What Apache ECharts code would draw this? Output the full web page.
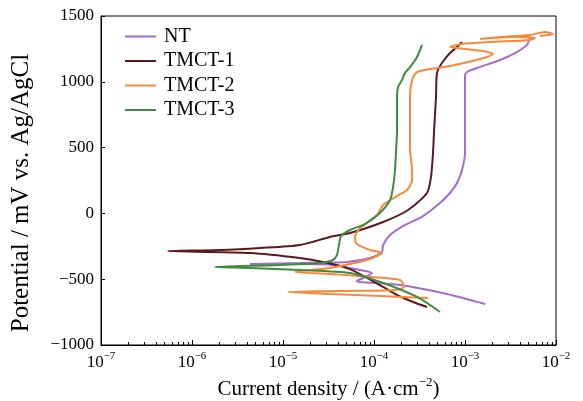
<!DOCTYPE html>
<html>
<head>
<meta charset="utf-8">
<script src="https://cdn.jsdelivr.net/npm/echarts@6/dist/echarts.min.js"></script>
<style>html,body{margin:0;padding:0;background:#fff}#c{width:583px;height:401px}</style>
</head>
<body>
<div id="c"></div>
<script>
var seriesNames = ['NT', 'TMCT-1', 'TMCT-2', 'TMCT-3'];
var seriesColors = ['#a56bd1', '#5c1a1f', '#f58a3c', '#3e8c3e'];

var ntData = [[1.66e-3,-688],[6.34e-4,-612],[1.93e-4,-544],[7.01e-5,-521],[6.50e-5,-514],[7.57e-5,-491],[9.51e-5,-453],[7.01e-5,-430],[3.54e-5,-392],[1.54e-5,-385],[4.34e-6,-385],[1.54e-5,-377],[5.05e-5,-369],[9.04e-5,-339],[1.22e-4,-293],[1.26e-4,-240],[1.50e-4,-164],[2.08e-4,-96],[3.45e-4,-20],[5.31e-4,79],[6.84e-4,155],[8.17e-4,231],[9.27e-4,330],[1.00e-3,459],[1.00e-3,634],[1.00e-3,885],[1.00e-3,1036],[1.05e-3,1074],[1.36e-3,1105],[2.43e-3,1166],[3.72e-3,1226],[4.80e-3,1280],[5.18e-3,1340]];

var tmct1Data = [[3.82e-4,-711],[2.69e-4,-673],[1.79e-4,-620],[1.26e-4,-559],[5.44e-5,-423],[2.75e-5,-369],[1.54e-5,-339],[4.34e-6,-301],[5.44e-7,-286],[2.03e-6,-278],[5.58e-6,-263],[1.54e-5,-240],[3.28e-5,-179],[5.44e-5,-149],[1.26e-4,-65],[2.37e-4,26],[3.82e-4,155],[4.23e-4,277],[4.45e-4,459],[4.56e-4,611],[4.80e-4,885],[4.92e-4,1067],[5.58e-4,1143],[6.84e-4,1219],[8.17e-4,1264],[9.27e-4,1302]];

var tmct2Data = [[3.92e-4,-643],[1.16e-4,-628],[3.28e-5,-612],[1.14e-5,-597],[4.23e-5,-590],[1.70e-4,-582],[2.14e-4,-559],[1.93e-4,-506],[9.04e-5,-483],[3.28e-5,-460],[1.36e-5,-445],[3.28e-5,-415],[5.44e-5,-385],[9.04e-5,-347],[1.22e-4,-301],[9.04e-5,-278],[6.50e-5,-233],[6.18e-5,-179],[7.01e-5,-111],[1.08e-4,-12],[1.26e-4,64],[1.79e-4,132],[2.31e-4,178],[2.62e-4,254],[2.62e-4,330],[2.49e-4,482],[2.49e-4,710],[2.49e-4,885],[2.62e-4,1014],[2.97e-4,1074],[4.12e-4,1097],[6.84e-4,1120],[1.46e-3,1173],[2.03e-3,1211],[1.58e-3,1234],[1.00e-3,1249],[6.84e-4,1264],[9.27e-4,1287],[1.88e-3,1302],[5.18e-3,1318],[5.87e-3,1333],[3.54e-3,1340],[1.46e-3,1325],[2.43e-3,1340],[5.18e-3,1356],[7.57e-3,1378],[9.27e-3,1363],[6.67e-3,1348]];

var tmct3Data = [[5.31e-4,-749],[2.97e-4,-635],[1.26e-4,-529],[5.44e-5,-453],[1.54e-5,-430],[4.34e-6,-415],[1.79e-6,-407],[9.27e-6,-392],[2.55e-5,-377],[3.54e-5,-354],[3.92e-5,-316],[4.12e-5,-240],[4.34e-5,-172],[5.44e-5,-126],[7.96e-5,-81],[1.16e-4,3],[1.50e-4,102],[1.62e-4,201],[1.70e-4,330],[1.75e-4,482],[1.79e-4,634],[1.79e-4,885],[1.84e-4,961],[2.03e-4,1014],[2.19e-4,1067],[2.49e-4,1112],[2.97e-4,1188],[3.37e-4,1280]];

var xMin = 1e-7, xMax = 1e-2;
var yMin = -1000, yMax = 1500, yStep = 500;
var xMajorTicks = [1e-7, 1e-6, 1e-5, 1e-4, 1e-3, 1e-2];
var xMinorTicks = [];
for (var d = -7; d < -2; d++) {
  for (var m = 2; m <= 9; m++) xMinorTicks.push(m * Math.pow(10, d));
}
var yTitle = 'Potential / mV vs. Ag/AgCl';

var FONT = '"Liberation Serif", "Times New Roman", serif';
var allData = [ntData, tmct1Data, tmct2Data, tmct3Data];

function minus(s) { return String(s).replace('-', '\u2212'); }

var chart = echarts.init(document.getElementById('c'), null, {renderer: 'canvas'});
chart.setOption({
  animation: false,
  backgroundColor: '#fff',
  grid: {left: 101, right: 27, top: 16, bottom: 56, show: true, borderColor: '#000', borderWidth: 1,
         containLabel: false, outerBoundsMode: 'none'},
  legend: {
    show: true,
    orient: 'vertical',
    left: 120, top: 21.5,
    itemWidth: 31, itemHeight: 2, itemGap: 4.5,
    icon: 'rect',
    textStyle: {fontFamily: FONT, fontSize: 20, color: '#000', padding: [0,0,0,3]},
    data: seriesNames
  },
  graphic: [{
    type: 'text', x: 21, y: 193, rotation: Math.PI / 2, silent: true,
    style: {text: yTitle, font: '25px ' + FONT, fill: '#000', align: 'center', verticalAlign: 'middle'}
  }],
  xAxis: [{
    type: 'log', logBase: 10, min: xMin, max: xMax,
    axisLine: {show: true, onZero: false, lineStyle: {color: '#000', width: 1}},
    axisTick: {show: true, inside: true, length: 5, lineStyle: {color: '#000'}, customValues: xMajorTicks},
    axisLabel: {
      customValues: xMajorTicks,
      margin: 6,
      fontFamily: FONT, fontSize: 17, color: '#000',
      formatter: function (v) {
        var e = Math.round(Math.log10(v));
        return '{b|10}{s|' + minus(e) + '}';
      },
      rich: {
        b: {fontFamily: FONT, fontSize: 17, color: '#000', lineHeight: 20, verticalAlign: 'bottom'},
        s: {fontFamily: FONT, fontSize: 11, color: '#000', lineHeight: 20, verticalAlign: 'top', padding: [0,0,9,0]}
      }
    },
    splitLine: {show: false},
    name: '{n|Current density / (A\u00b7cm}{s|\u22122}{n|)}',
    nameLocation: 'middle', nameGap: 21,
    nameTextStyle: {
      rich: {
        n: {fontFamily: FONT, fontSize: 21, color: '#000', lineHeight: 24, verticalAlign: 'bottom'},
        s: {fontFamily: FONT, fontSize: 13, color: '#000', lineHeight: 24, verticalAlign: 'top', padding: [0,0,10,0]}
      }
    }
  }, {
    type: 'log', logBase: 10, min: xMin, max: xMax, position: 'bottom',
    axisLine: {show: false, onZero: false},
    axisTick: {show: true, inside: true, length: 3, lineStyle: {color: '#000'}, customValues: xMinorTicks},
    axisLabel: {show: true, customValues: xMinorTicks, formatter: function () { return ''; }},
    splitLine: {show: false}
  }],
  yAxis: {
    type: 'value', min: yMin, max: yMax, interval: yStep,
    axisLine: {show: true, onZero: false, lineStyle: {color: '#000', width: 1}},
    axisTick: {show: true, inside: true, length: 4, lineStyle: {color: '#000'}},
    axisLabel: {fontFamily: FONT, fontSize: 17, color: '#000', margin: 7, formatter: function (v) { return minus(v); }},
    splitLine: {show: false}
  },
  series: seriesNames.map(function (n, i) {
    return {
      name: n, type: 'line', xAxisIndex: 0, data: allData[i],
      symbol: 'none', smooth: 0.25,
      lineStyle: {color: seriesColors[i], width: 2},
      itemStyle: {color: seriesColors[i]}
    };
  })
});
</script>
</body>
</html>
